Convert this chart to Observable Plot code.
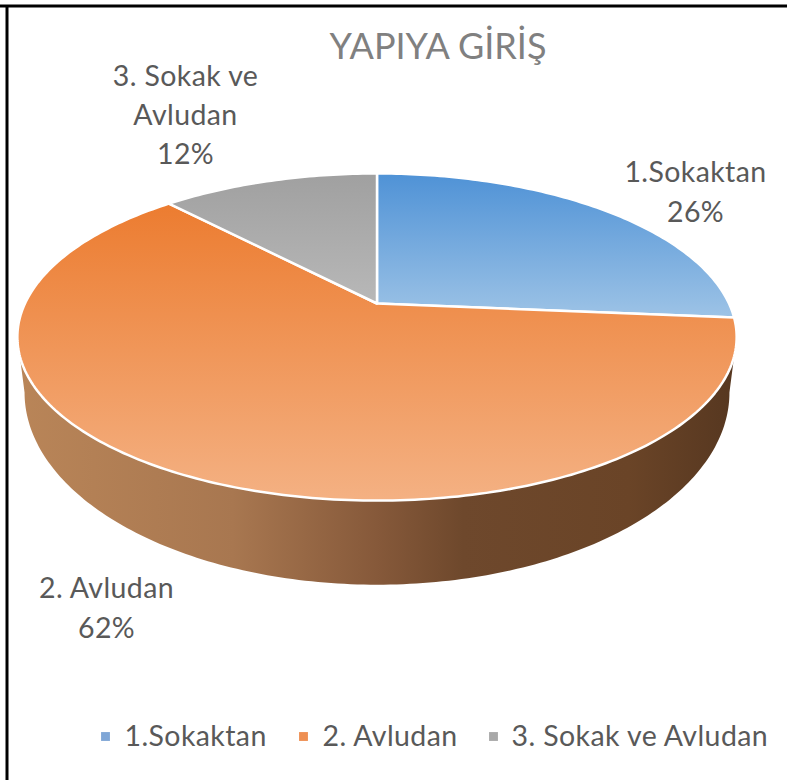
<!DOCTYPE html>
<html><head><meta charset="utf-8">
<style>html,body{margin:0;padding:0;background:#fff}svg{display:block}svg text{letter-spacing:.4px}</style>
<script src="https://cdn.jsdelivr.net/npm/d3@7"></script>
<script src="https://cdn.jsdelivr.net/npm/@observablehq/plot@0.6"></script>
</head><body><div id="chart"></div>
<script>
const categories = ["1.Sokaktan", "2. Avludan", "3. Sokak ve Avludan"];
const values = [26.4, 61.7, 11.9];
const labelLines = ["1.Sokaktan", "2. Avludan", "3. Sokak ve\nAvludan"];
const titleText = "YAPIYA GİRİŞ";

const W = 787, H = 780;
const cx = 376.5, cy = 303, A = 352, B = 156.7, k = 0.205;
const FONT = "Lato, 'Noto Sans', sans-serif";
const project = (t, sx = 1, sy = 1, d = 0) => {
  const u = Math.sin(t), v = -Math.cos(t), w = 1 - k * v;
  return {x: cx + sx * A * u / w, y: cy + sy * B * v / w + d};
};
const total = d3.sum(values);
const arcs = d3.pie().sort(null)(values);
const slice = a => {
  const n = Math.max(8, Math.ceil((a.endAngle - a.startAngle) * 60));
  const pts = [{x: cx, y: cy}];
  for (let i = 0; i <= n; i++) pts.push(project(a.startAngle + (a.endAngle - a.startAngle) * i / n));
  pts.push({x: cx, y: cy});
  return pts;
};
const t0 = Math.acos(-k), t1 = 2 * Math.PI - t0;
const frontAngles = d3.range(181).map(i => t0 + (t1 - t0) * i / 180);
const wall = [
  ...frontAngles.map(t => project(t)),
  ...frontAngles.slice().reverse().map(t => project(t, 0.98, 1.175, 49.6))
];

const defs = () => {
  const svgNS = "http://www.w3.org/2000/svg";
  const el = document.createElementNS(svgNS, "defs");
  const grad = (id, stops, horiz) => {
    const g = document.createElementNS(svgNS, "linearGradient");
    g.setAttribute("id", id);
    g.setAttribute("x1", 0); g.setAttribute("y1", 0);
    g.setAttribute("x2", horiz ? 1 : 0); g.setAttribute("y2", horiz ? 0 : 1);
    for (const [o, c] of stops) {
      const s = document.createElementNS(svgNS, "stop");
      s.setAttribute("offset", o); s.setAttribute("stop-color", c);
      g.appendChild(s);
    }
    el.appendChild(g);
  };
  grad("gBlue", [[0, "#4f92d6"], [1, "#9dc3e6"]]);
  grad("gOrange", [[0, "#ec7c30"], [1, "#f4b183"]]);
  grad("gGray", [[0, "#a0a0a0"], [1, "#b8b8b8"]]);
  grad("gWall", [[0, "#b98558"], [0.3, "#a87750"], [0.5, "#86593a"], [0.62, "#6e482c"], [0.85, "#6a4427"], [1, "#563720"]], true);
  return el;
};
const fills = ["url(#gBlue)", "url(#gOrange)", "url(#gGray)"];
const legendColors = ["#7fa6d6", "#ee8f52", "#a8a8a8"];

const labels = [
  {x: 695, y: 189, text: `${labelLines[0]}\n${Math.round(values[0] / total * 100)}%`},
  {x: 106, y: 605, text: `${labelLines[1]}\n${Math.round(values[1] / total * 100)}%`},
  {x: 185, y: 112, text: `${labelLines[2]}\n${Math.round(values[2] / total * 100)}%`}
];
const legend = [{x: 105, tx: 124}, {x: 303, tx: 322}, {x: 493, tx: 511}].map((p, i) => ({...p, y: 736, name: categories[i], color: legendColors[i]}));

const plot = Plot.plot({
  width: W, height: H, margin: 0,
  x: {domain: [0, W], range: [0, W], axis: null},
  y: {domain: [0, H], range: [0, H], axis: null},
  style: {background: "#fff", fontFamily: FONT},
  marks: [
    defs,
    Plot.line(wall, {x: "x", y: "y", fill: "url(#gWall)", stroke: "none"}),
    ...arcs.map((a, i) => Plot.line(slice(a), {x: "x", y: "y", fill: fills[i], stroke: "#fff", strokeWidth: 2.5, strokeLinejoin: "round"})),
    Plot.text([titleText], {frameAnchor: "top", dy: 47, dx: 44, text: d => d, fontSize: 36, fill: "#808080", lineAnchor: "middle"}),
    Plot.text(labels, {x: "x", y: "y", text: "text", fontSize: 28.5, lineHeight: 1.37, fill: "#595959"}),
    Plot.dot(legend, {x: "x", y: "y", symbol: "square", r: 5, fill: "color", stroke: null}),
    Plot.text(legend, {x: "tx", y: "y", text: "name", textAnchor: "start", fontSize: 28.5, fill: "#595959"}),
    Plot.ruleY([5.5], {stroke: "#000", strokeWidth: 3}),
    Plot.ruleX([6.5], {y1: 5, y2: H, stroke: "#000", strokeWidth: 3})
  ]
});
plot.querySelectorAll("text").forEach(t => { if (t.textContent === titleText) t.style.letterSpacing = "0"; });
document.getElementById("chart").appendChild(plot);
</script></body></html>
